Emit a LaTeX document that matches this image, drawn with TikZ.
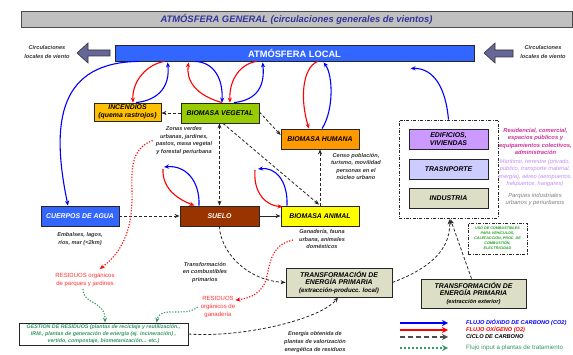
\documentclass[tikz,border=0pt]{standalone}
\usepackage{fontspec}
\setmainfont{Liberation Sans}
\usetikzlibrary{arrows.meta,calc}

\definecolor{titlebg}{HTML}{C0C0C0}
\definecolor{titletx}{HTML}{333399}
\definecolor{atmblue}{HTML}{3366FF}
\definecolor{windcol}{HTML}{666699}
\definecolor{incendio}{HTML}{FFC000}
\definecolor{vegetal}{HTML}{99CC00}
\definecolor{humana}{HTML}{FF9900}
\definecolor{animal}{HTML}{FFFF00}
\definecolor{suelo}{HTML}{993300}
\definecolor{edif}{HTML}{CC99FF}
\definecolor{transp}{HTML}{CCCCFF}
\definecolor{olivebox}{HTML}{DCDEC6}
\definecolor{gestgreen}{HTML}{339966}
\definecolor{usogreen}{HTML}{22A022}
\definecolor{resred}{HTML}{FF3333}
\definecolor{co2blue}{HTML}{0000FF}
\definecolor{o2red}{HTML}{FF0000}
\definecolor{resimag}{HTML}{CC3399}
\definecolor{transpurp}{HTML}{C58CF5}

\tikzset{
  cellbox/.style={draw=black!85, line width=0.8pt, minimum height=20pt, inner sep=1pt,
    align=center, font=\fontsize{6.9}{7.8}\selectfont\bfseries\itshape},
  note/.style={align=center, inner sep=0pt, text=black!80,
    font=\fontsize{5.6}{7.6}\selectfont\bfseries\itshape},
  resnote/.style={align=center, inner sep=0pt, text=resred,
    font=\fontsize{6}{8}\selectfont},
  legtext/.style={anchor=west, inner sep=0pt, font=\fontsize{5.6}{6}\selectfont\bfseries\itshape},
  headtip/.style={-{Stealth[length=5pt,width=4.2pt]}},
  co2/.style={draw=co2blue, line width=1.1pt, headtip},
  otwo/.style={draw=o2red, line width=1.1pt, headtip},
  carbon/.style={draw=black!85, line width=0.8pt, dash pattern=on 3pt off 2pt,
    -{Stealth[length=5pt,width=4pt]}},
  feed/.style={draw=gestgreen, line width=1.1pt, dash pattern=on 1.2pt off 1.6pt,
    -{Stealth[length=5pt,width=4pt]}},
  waste/.style={draw=o2red, line width=1.1pt, dash pattern=on 1.2pt off 1.6pt, headtip},
  dashframe/.style={draw=black!85, line width=0.7pt,
    dash pattern=on 3pt off 1.5pt on 0.8pt off 1.5pt},
  windarrow/.style={fill=windcol, draw=black!80, line width=0.6pt},
}

\begin{document}
\begin{tikzpicture}[x=1pt,y=-1pt]
\useasboundingbox (0,0) rectangle (573,355);
\fill[white] (0,0) rectangle (573,355);

% header bars
\node[draw=black!70, line width=0.8pt, fill=titlebg, minimum width=551pt, minimum height=16pt,
  inner sep=0pt, text=titletx, font=\fontsize{9.4}{10}\selectfont\bfseries\itshape]
  (gen) at (296.5,19) {ATMÓSFERA GENERAL (circulaciones generales de vientos)};
\node[draw=black!85, line width=0.8pt, fill=atmblue, minimum width=359pt, minimum height=16pt,
  inner sep=0pt, text=white, font=\fontsize{9.3}{10}\selectfont\bfseries]
  (atm) at (294.5,53) {ATMÓSFERA LOCAL};

% local wind arrows
\draw[windarrow] (77,53) -- (88,43) -- (88,50) -- (110,50) -- (110,56) -- (88,56) -- (88,63) -- cycle;
\draw[windarrow] (484,53) -- (495,43) -- (495,50) -- (513,50) -- (513,57) -- (495,57) -- (495,63) -- cycle;
\node[note, font=\fontsize{5.6}{9}\selectfont\bfseries\itshape] (wl) at (47,52.5) {Circulaciones\\locales de viento};
\node[note, font=\fontsize{5.6}{9}\selectfont\bfseries\itshape] (wr) at (543,52.5) {Circulaciones\\locales de viento};

% main boxes
\node[cellbox, fill=incendio, minimum width=67pt, minimum height=18pt] (inc) at (127.5,112) {INCENDIOS\\(quema rastrojos)};
\node[cellbox, fill=vegetal, minimum width=78pt] (bv) at (220,113) {BIOMASA VEGETAL};
\node[cellbox, fill=humana, minimum width=78pt] (bh) at (320,139) {BIOMASA HUMANA};
\node[cellbox, fill=animal, minimum width=78pt] (ba) at (320,216) {BIOMASA ANIMAL};
\node[cellbox, fill=suelo, text=white, minimum width=79pt] (suelo) at (219.5,216) {SUELO};
\node[cellbox, fill=atmblue, text=white, minimum width=78pt] (agua) at (80,216) {CUERPOS DE AGUA};

% urban sectors
\node[dashframe, minimum width=99pt, minimum height=98pt] (urb) at (448.5,169) {};
\node[cellbox, fill=edif, minimum width=79pt] (edif) at (448.5,139) {EDIFICIOS,\\VIVIENDAS};
\node[cellbox, fill=transp, minimum width=79pt] (transp) at (448.5,169) {TRASNPORTE};
\node[cellbox, fill=olivebox, minimum width=79pt] (indus) at (448.5,198) {INDUSTRIA};

\node[dashframe, minimum width=59pt, minimum height=31pt, inner sep=0pt, align=center, text=usogreen,
  font=\fontsize{3.7}{5}\selectfont\bfseries\itshape] (uso) at (497.5,238.5)
  {USO DE COMBUSTIBLES\\PARA VEHÍCULOS,\\CALEFACCIÓN, PROC. DE\\COMBUSTIÓN,\\ELECTRICIDAD};

% energy transformation and waste management
\node[cellbox, fill=olivebox, minimum width=106pt, minimum height=29pt] (tloc) at (339,282.5)
  {TRANSFORMACIÓN DE\\ENERGÍA PRIMARIA\\{\fontsize{6.2}{7.8}\selectfont(extracción-producc. local)}};
\node[cellbox, fill=olivebox, minimum width=105pt, minimum height=29pt] (text) at (473.5,293.5)
  {TRANSFORMACIÓN DE\\ENERGÍA PRIMARIA\\{\fontsize{5.6}{7.8}\selectfont(extracción exterior)}};
\node[cellbox, fill=white, minimum width=169pt, minimum height=22pt, text=gestgreen,
  font=\fontsize{5.3}{7}\selectfont\bfseries\itshape] (gest) at (103.5,334)
  {GESTIÓN DE RESIDUOS (plantas de reciclaje y reutilización.,\\IRM., plantas de generación de energía (ej. incineración) ,\\vertido, compostaje, biometanización... etc.)};

% annotations
\node[note] (zonas) at (184,140.5) {Zonas verdes\\urbanas, jardines,\\pastos, masa vegetal\\y forestal periurbana};
\node[note] (censo) at (356,166.5) {Censo población,\\turismo, movilidad\\personas en el\\núcleo urbano};
\node[note] (embal) at (80,239) {Embalses, lagos,\\ríos, mar (<2km)};
\node[note] (ganad) at (322,239) {Ganadería, fauna\\urbana, animales\\domésticos};
\node[note] (combus) at (205,272.5) {Transformación\\en combustibles\\primarios};
\node[note] (energ) at (315,342) {Energía obtenida de\\plantas de valorización\\energética de residuos};
\node[resnote] (rparq) at (85,280) {RESIDUOS orgánicos\\de parques y jardines};
\node[resnote] (rgan) at (218,307) {RESIDUOS\\orgánicos de\\ganadería};

\node[note, text=resimag, font=\fontsize{5.8}{7.6}\selectfont\bfseries\itshape] (resid) at (535.5,141.5) {Residencial, comercial,\\espacios públicos y\\equipamientos colectivos,\\administración};
\node[note, text=transpurp, font=\fontsize{5.7}{7.4}\selectfont\itshape] (mari) at (535,173)
  {Marítimo, terrestre (privado,\\público, transporte material,\\energía), aéreo (aeropuertos,\\helipuertos, hangares)};
\node[note, text=black!50, font=\fontsize{5.9}{7.4}\selectfont\itshape] (parq) at (535,199.5) {Parques industriales\\urbanos y periurbanos};

% free ends of the short exchange loops
\coordinate (sfree) at (163,168);
\coordinate (afree) at (257,169);

% CO2 / O2 exchanges with the local atmosphere
\draw[co2] ($(atm.south west)+(25,0)$) .. controls (60,62) and (50,120) .. ($(agua.north)+(-12,0)$);
\draw[otwo] ($(atm.south west)+(50,0)$) .. controls (148,64) and (132,80) .. ($(inc.north)+(5.5,0)$);
\draw[co2] ($(inc.north)+(8.5,0)$) .. controls (160,100) and (170,85) .. ($(atm.south west)+(53,1)$);
\draw[otwo] ($(bv.north)+(2,0)$) .. controls (195,95) and (186,80) .. ($(atm.south west)+(74,1)$);
\draw[co2] ($(atm.south west)+(80,0)$) .. controls (215,62) and (223,80) .. ($(bv.north)+(2,0)$);
\draw[otwo] ($(atm.south west)+(142,0)$) .. controls (240,64) and (229,80) .. ($(bv.north)+(10,0)$);
\draw[co2] ($(bv.north)+(14,0)$) .. controls (258,100) and (265,85) .. ($(atm.south west)+(148,1)$);
\draw[otwo] ($(atm.south west)+(203,0)$) .. controls (302,68) and (300,100) .. ($(bh.north)+(-11,0)$);
\draw[co2] ($(bh.north)+(2,0)$) .. controls (334,110) and (333,75) .. ($(atm.south west)+(209,1)$);
\draw[co2] (urb.north) .. controls (446,90) and (435,68) .. ($(atm.south west)+(296,7)$);
\draw[co2] ($(suelo.north)+(-20.5,0)$) .. controls (200,180) and (185,165) .. ($(sfree)+(1,-1)$);
\draw[otwo] ($(sfree)+(0,1)$) .. controls (162,190) and (180,200) .. ($(suelo.north)+(-25,0)$);
\draw[co2] ($(ba.north)+(-33,0)$) .. controls (288,180) and (275,167) .. ($(afree)+(1,0)$);
\draw[otwo] ($(afree)+(-2,1)$) .. controls (253,195) and (268,206) .. ($(ba.north west)+(2,1)$);

% carbon cycle
\draw[carbon] (bv.west) -- (bv.west -| inc.east);
\draw[carbon] ($(bv.east)+(0,-1)$) -- ($(bh.west)+(0,-4)$);
\draw[carbon, {Stealth[length=5pt,width=4pt]}-{Stealth[length=5pt,width=4pt]}] (bv.south -| suelo.north) -- (suelo.north);
\draw[carbon] ($(bv.south)+(3,0)$) -- ($(ba.north)+(-1,-1)$);
\draw[carbon] (ba.north) -- (bh.south);
\draw[carbon] (agua.east) -- (suelo.west);
\draw[draw=black!85, line width=0.8pt, -{Stealth[length=5pt,width=4pt]}] (suelo.east) -- (ba.west);
\draw[carbon] (suelo.south) .. controls (220,250) and (245,280) .. (tloc.west);
\draw[carbon] (gest.east) .. controls (240,338) and (320,320) .. ($(tloc.south)+(-1,0)$);
\draw[carbon] (tloc.east) .. controls (420,272) and (451,255) .. ($(urb.south)+(1,1)$);
\draw[carbon] ($(text.north)+(-2,0)$) -- ($(urb.south)+(2,1)$);

% organic waste
\draw[waste] ($(zonas.west)+(-3,0)$) .. controls (133,148) and (131,165) .. (132,190)
  .. controls (133,225) and (125,250) .. ($(rparq.north east)+(-15,-4)$);
\draw[waste] ($(ganad.west)+(-6,1)$) .. controls (270,245) and (270,265) .. (266,280)
  .. controls (262,292) and (252,298) .. ($(rgan.north east)+(0,4)$);
\draw[feed] ($(rparq.south)+(-2,2)$) .. controls (83,305) and (105,300) .. ($(gest.north)+(1.5,0)$);
\draw[feed] ($(rgan.west)+(-3,0)$) .. controls (185,318) and (160,305) .. ($(gest.north)+(53,0)$);

% legend
\coordinate (la1) at (400,323); \coordinate (lb1) at (448,323);
\coordinate (la2) at (400,330); \coordinate (lb2) at (448,330);
\coordinate (la3) at (400,337); \coordinate (lb3) at (448,337);
\coordinate (la4) at (400,348); \coordinate (lb4) at (448,348);
\draw[co2, line width=1.6pt, -{Stealth[length=6pt,width=6pt]}] (la1) -- (lb1);
\draw[otwo, line width=1.6pt, -{Stealth[length=6pt,width=6pt]}] (la2) -- (lb2);
\draw[carbon, draw=black!70, line width=1.6pt, dash pattern=on 5pt off 3pt, -{Stealth[length=6pt,width=6pt]}] (la3) -- (lb3);
\draw[feed, line width=1.3pt, dash pattern=on 2pt off 2pt, -{Stealth[length=6pt,width=6pt]}] (la4) -- (lb4);
\node[legtext, text=co2blue] (lt1) at (466,323) {FLUJO DIÓXIDO DE CARBONO (CO2)};
\node[legtext, text=o2red] (lt2) at (466,330) {FLUJO OXÍGENO (O2)};
\node[legtext, text=black] (lt3) at (466,337) {CICLO DE CARBONO};
\node[legtext, text=gestgreen, font=\fontsize{6.2}{7}\selectfont] (lt4) at (466,348) {Flujo input a plantas de tratamiento};
\end{tikzpicture}
\end{document}
